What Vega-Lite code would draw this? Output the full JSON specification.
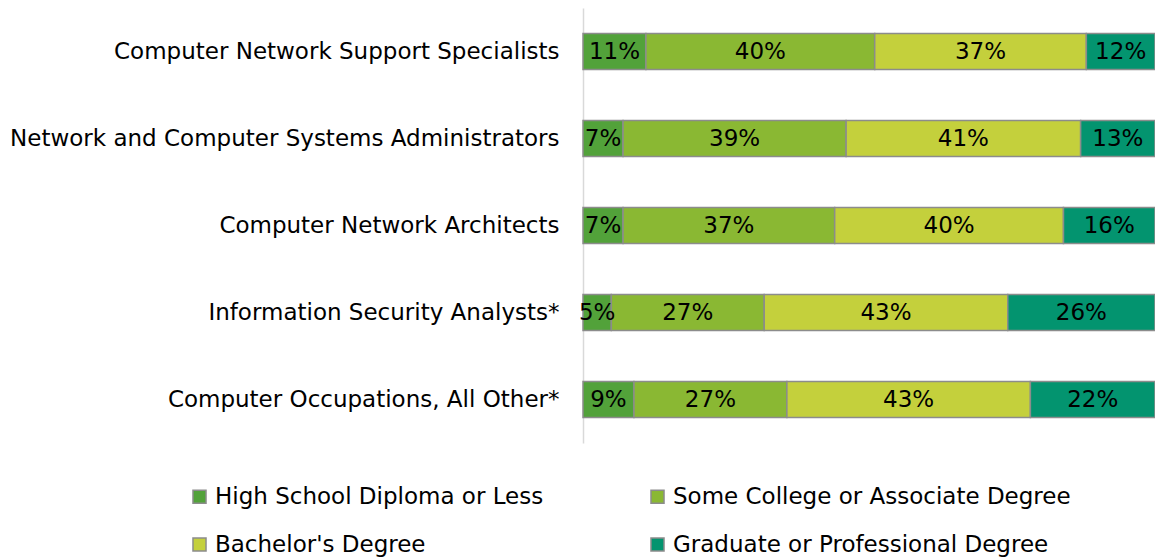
{
  "$schema": "https://vega.github.io/schema/vega-lite/v6.json",
  "width": 572,
  "height": 435,
  "autosize": {"type": "none"},
  "padding": {"left": 583, "top": 8, "right": 0, "bottom": 115},
  "config": {"font": "DejaVu Sans", "view": {"stroke": null}},
  "data": {
    "values": [
      {"occ": "Computer Network Support Specialists", "level": "High School Diploma or Less", "k": 1, "pct": 11},
      {"occ": "Computer Network Support Specialists", "level": "Some College or Associate Degree", "k": 2, "pct": 40},
      {"occ": "Computer Network Support Specialists", "level": "Bachelor's Degree", "k": 3, "pct": 37},
      {"occ": "Computer Network Support Specialists", "level": "Graduate or Professional Degree", "k": 4, "pct": 12},
      {"occ": "Network and Computer Systems Administrators", "level": "High School Diploma or Less", "k": 1, "pct": 7},
      {"occ": "Network and Computer Systems Administrators", "level": "Some College or Associate Degree", "k": 2, "pct": 39},
      {"occ": "Network and Computer Systems Administrators", "level": "Bachelor's Degree", "k": 3, "pct": 41},
      {"occ": "Network and Computer Systems Administrators", "level": "Graduate or Professional Degree", "k": 4, "pct": 13},
      {"occ": "Computer Network Architects", "level": "High School Diploma or Less", "k": 1, "pct": 7},
      {"occ": "Computer Network Architects", "level": "Some College or Associate Degree", "k": 2, "pct": 37},
      {"occ": "Computer Network Architects", "level": "Bachelor's Degree", "k": 3, "pct": 40},
      {"occ": "Computer Network Architects", "level": "Graduate or Professional Degree", "k": 4, "pct": 16},
      {"occ": "Information Security Analysts*", "level": "High School Diploma or Less", "k": 1, "pct": 5},
      {"occ": "Information Security Analysts*", "level": "Some College or Associate Degree", "k": 2, "pct": 27},
      {"occ": "Information Security Analysts*", "level": "Bachelor's Degree", "k": 3, "pct": 43},
      {"occ": "Information Security Analysts*", "level": "Graduate or Professional Degree", "k": 4, "pct": 26},
      {"occ": "Computer Occupations, All Other*", "level": "High School Diploma or Less", "k": 1, "pct": 9},
      {"occ": "Computer Occupations, All Other*", "level": "Some College or Associate Degree", "k": 2, "pct": 27},
      {"occ": "Computer Occupations, All Other*", "level": "Bachelor's Degree", "k": 3, "pct": 43},
      {"occ": "Computer Occupations, All Other*", "level": "Graduate or Professional Degree", "k": 4, "pct": 22}
    ]
  },
  "transform": [
    {"stack": "pct", "groupby": ["occ"], "sort": [{"field": "k"}], "offset": "normalize", "as": ["x0", "x1"]},
    {"calculate": "(datum.x0 + datum.x1) / 2", "as": "xm"},
    {"calculate": "datum.pct + '%'", "as": "label"}
  ],
  "encoding": {
    "y": {
      "field": "occ",
      "type": "nominal",
      "sort": ["Computer Network Support Specialists", "Network and Computer Systems Administrators", "Computer Network Architects", "Information Security Analysts*", "Computer Occupations, All Other*"],
      "scale": {"paddingInner": 0.586, "paddingOuter": 0.293},
      "axis": {"title": null, "domainColor": "#d9d9d9", "domainWidth": 1.5, "ticks": false, "labelFontSize": 23, "labelColor": "black", "labelPadding": 24, "labelLimit": 700}
    }
  },
  "layer": [
    {
      "mark": {"type": "bar", "stroke": "#8c8c8c", "strokeWidth": 1.5},
      "encoding": {
        "x": {"field": "x0", "type": "quantitative", "scale": {"domain": [0, 1]}, "axis": null},
        "x2": {"field": "x1"},
        "color": {
          "field": "level",
          "type": "nominal",
          "scale": {
            "domain": ["High School Diploma or Less", "Some College or Associate Degree", "Bachelor's Degree", "Graduate or Professional Degree"],
            "range": ["#52a23a", "#8ab833", "#c4d03c", "#03946f"]
          },
          "legend": {
            "title": null, "orient": "none", "legendX": -395, "legendY": 477, "columns": 2, "direction": "horizontal",
            "columnPadding": 102, "rowPadding": 24, "labelFontSize": 23, "labelColor": "black", "labelLimit": 600,
            "symbolType": "square", "symbolSize": 170, "symbolStrokeColor": "#8c8c8c", "symbolStrokeWidth": 1.5,
            "symbolOpacity": 1, "labelOffset": 4
          }
        }
      }
    },
    {
      "mark": {"type": "text", "fontSize": 23, "color": "black"},
      "encoding": {
        "x": {"field": "xm", "type": "quantitative"},
        "text": {"field": "label"}
      }
    }
  ]
}
